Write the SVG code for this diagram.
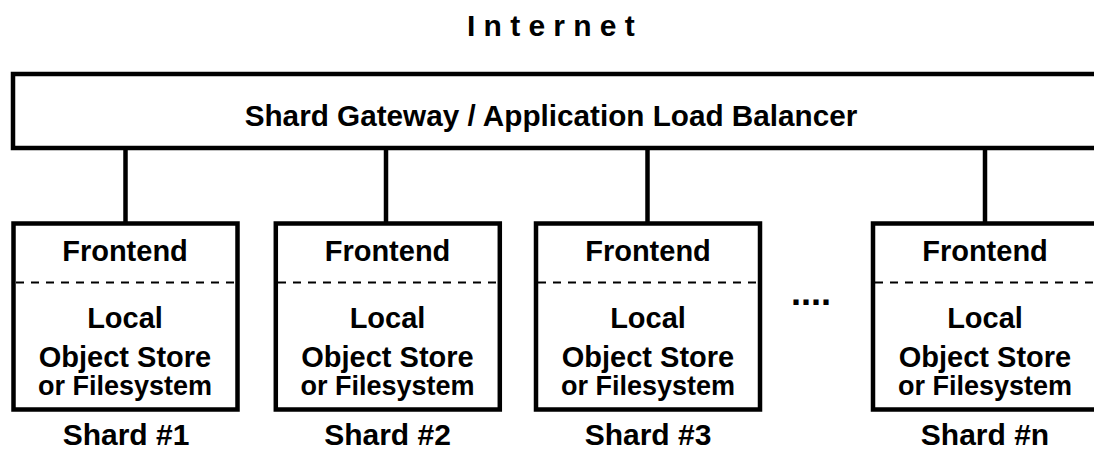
<svg xmlns="http://www.w3.org/2000/svg" width="1094" height="451" viewBox="0 0 1094 451">
  <style>
    .box { fill: #fff; stroke: #000; stroke-width: 4.5; }
    .dash { stroke: #000; stroke-width: 2; stroke-dasharray: 8 7; }
    .conn { stroke: #000; stroke-width: 4.5; }
    text { font-family: "Liberation Sans", Arial, Helvetica, sans-serif; font-weight: bold; fill: #000; text-anchor: middle; }
    .t { font-size: 29px; }
    .g { font-size: 29.7px; }
    .s { font-size: 27px; }
    .lbl { font-size: 30px; }
  </style>
  <rect width="1094" height="451" fill="#fff"/>
  <g id="internet">
    <text x="467" y="36" style="text-anchor:start; font-size:30px; letter-spacing:8.25px">Internet</text>
  </g>
  <g id="connectors">
    <line class="conn" x1="125.5" y1="148" x2="125.5" y2="224"/>
    <line class="conn" x1="386" y1="148" x2="386" y2="224"/>
    <line class="conn" x1="647.5" y1="148" x2="647.5" y2="224"/>
    <line class="conn" x1="985" y1="148" x2="985" y2="224"/>
  </g>
  <g id="gateway">
    <rect class="box" x="13" y="74" width="1100" height="74"/>
    <text class="g" x="551" y="126">Shard Gateway / Application Load Balancer</text>
  </g>
  <g id="shard1">
    <rect class="box" x="13.5" y="223.5" width="224" height="186"/>
    <line class="dash" x1="16" y1="282.5" x2="235" y2="282.5"/>
    <text class="t" x="125" y="261">Frontend</text>
    <text class="t" x="125" y="328">Local</text>
    <text class="t" x="125" y="367">Object Store</text>
    <text class="s" x="125" y="395">or Filesystem</text>
    <text class="lbl" x="126" y="445">Shard #1</text>
  </g>
  <g id="shard2">
    <rect class="box" x="275.8" y="223.5" width="224" height="186"/>
    <line class="dash" x1="278" y1="282.5" x2="497" y2="282.5"/>
    <text class="t" x="387.5" y="261">Frontend</text>
    <text class="t" x="387.5" y="328">Local</text>
    <text class="t" x="387.5" y="367">Object Store</text>
    <text class="s" x="387.5" y="395">or Filesystem</text>
    <text class="lbl" x="387.5" y="445">Shard #2</text>
  </g>
  <g id="shard3">
    <rect class="box" x="536" y="223.5" width="224" height="186"/>
    <line class="dash" x1="538" y1="282.5" x2="758" y2="282.5"/>
    <text class="t" x="648" y="261">Frontend</text>
    <text class="t" x="648" y="328">Local</text>
    <text class="t" x="648" y="367">Object Store</text>
    <text class="s" x="648" y="395">or Filesystem</text>
    <text class="lbl" x="648" y="445">Shard #3</text>
  </g>
  <g id="ellipsis">
    <text x="811" y="305" style="font-size:36px">....</text>
  </g>
  <g id="shardn">
    <rect class="box" x="873" y="223.5" width="224" height="186"/>
    <line class="dash" x1="875" y1="282.5" x2="1094" y2="282.5"/>
    <text class="t" x="985" y="261">Frontend</text>
    <text class="t" x="985" y="328">Local</text>
    <text class="t" x="985" y="367">Object Store</text>
    <text class="s" x="985" y="395">or Filesystem</text>
    <text class="lbl" x="985" y="445">Shard #n</text>
  </g>
</svg>
